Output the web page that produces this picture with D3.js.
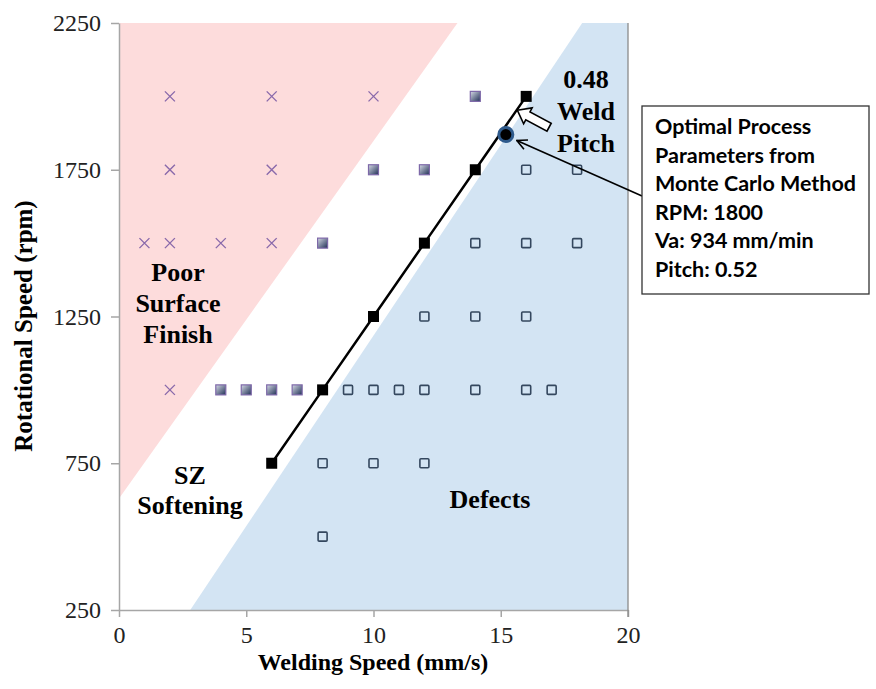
<!DOCTYPE html>
<html><head><meta charset="utf-8">
<script src="https://cdn.jsdelivr.net/npm/d3@7"></script>
<style>body{margin:0;background:#fff}svg{display:block}</style>
</head><body>
<svg id="c" width="876" height="689"></svg>
<script>
// ---- data ----
const xTicks = [0, 5, 10, 15, 20];
const yTicks = [250, 750, 1250, 1750, 2250];
const poorFinish = [[2,2000],[6,2000],[10,2000],[2,1750],[6,1750],[1,1500],[2,1500],[4,1500],[6,1500],[2,1000]];
const softening = [[14,2000],[10,1750],[12,1750],[8,1500],[4,1000],[5,1000],[6,1000],[7,1000]];
const pitchLine = [[6,750],[8,1000],[10,1250],[12,1500],[14,1750],[16,2000]];
const defects = [[16,1750],[18,1750],[14,1500],[16,1500],[18,1500],[12,1250],[14,1250],[16,1250],
  [9,1000],[10,1000],[11,1000],[12,1000],[14,1000],[16,1000],[17,1000],[8,750],[10,750],[12,750],[8,500]];
const optimal = [15.2, 1870];
const redRegion = [[0,2250],[13.3,2250],[0,630]];
const blueRegion = [[2.8,250],[18.2,2250],[20,2250],[20,250]];
const infoLines = ["Optimal Process","Parameters from","Monte Carlo Method","RPM: 1800","Va: 934 mm/min","Pitch: 0.52"];

const svg = d3.select("#c");
const L=119, R=628, T=23, B=610;
const x = d3.scaleLinear().domain([0,20]).range([L,R]);
const y = d3.scaleLinear().domain([250,2250]).range([B,T]);

const defs = svg.append("defs");
const g = defs.append("linearGradient").attr("id","sqg").attr("x1","0").attr("y1","0").attr("x2","1").attr("y2","1");
g.append("stop").attr("offset","0").attr("stop-color","#d7dbe6");
g.append("stop").attr("offset","1").attr("stop-color","#1f2f55");

const line = d3.line().x(d=>x(d[0])).y(d=>y(d[1]));
svg.append("path").attr("d", line(redRegion)+"Z").attr("fill","#fddcdc");
svg.append("path").attr("d", line(blueRegion)+"Z").attr("fill","#d3e4f3");

// axes
const axisCol = "#a6a6a6";
const serif = "Liberation Serif, Times New Roman, serif";
const xa = svg.append("g").attr("transform",`translate(0,${B})`)
  .call(d3.axisBottom(x).tickValues(xTicks).tickSize(7).tickSizeOuter(0));
const ya = svg.append("g").attr("transform",`translate(${L},0)`)
  .call(d3.axisLeft(y).tickValues(yTicks).tickSize(8).tickSizeOuter(0).tickFormat(d3.format("d")));
[xa,ya].forEach(a=>{
  a.selectAll("path,line").attr("stroke",axisCol).attr("stroke-width",1.5);
  a.selectAll("text").attr("fill","#222").style("font-family",serif).style("font-size","24px");
});
xa.selectAll("text").attr("y",16);
ya.selectAll("text").attr("x",-18);
svg.append("line").attr("x1",R).attr("x2",R).attr("y1",T).attr("y2",B+7).attr("stroke","#8a8a8a").attr("stroke-width",1.3);

// markers
const cs = 5;
svg.append("g").selectAll("path").data(poorFinish).join("path")
  .attr("d", d=>`M${x(d[0])-cs},${y(d[1])-cs}L${x(d[0])+cs},${y(d[1])+cs}M${x(d[0])-cs},${y(d[1])+cs}L${x(d[0])+cs},${y(d[1])-cs}`)
  .attr("stroke","#8a6aab").attr("stroke-width",1.4);
svg.append("g").selectAll("rect").data(softening).join("rect")
  .attr("x",d=>x(d[0])-5).attr("y",d=>y(d[1])-5).attr("width",10).attr("height",10)
  .attr("fill","url(#sqg)").attr("stroke","#7d68a8").attr("stroke-width",1.2);
svg.append("g").selectAll("rect").data(defects).join("rect")
  .attr("x",d=>x(d[0])-4.5).attr("y",d=>y(d[1])-4.5).attr("width",9).attr("height",9)
  .attr("fill","none").attr("stroke","#34475e").attr("stroke-width",1.6).attr("rx",1);
svg.append("path").attr("d",line(pitchLine)).attr("fill","none").attr("stroke","#000").attr("stroke-width",2.5);
svg.append("g").selectAll("rect").data(pitchLine).join("rect")
  .attr("x",d=>x(d[0])-5.5).attr("y",d=>y(d[1])-5.5).attr("width",11).attr("height",11).attr("fill","#000");

// optimal point
svg.append("circle").attr("cx",x(optimal[0])).attr("cy",y(optimal[1])).attr("r",7)
  .attr("fill","#000").attr("stroke","#2e5a8c").attr("stroke-width",3);

// block arrow (hollow)
{
  const tip=[x(15.65), y(1953)], tail=[x(16.9), y(1895)];
  const ang = Math.atan2(tail[1]-tip[1], tail[0]-tip[0])*180/Math.PI;
  const len = Math.hypot(tail[0]-tip[0], tail[1]-tip[1]);
  svg.append("path").attr("transform",`translate(${tip[0]},${tip[1]}) rotate(${ang})`)
    .attr("d",`M0,0L12,-9L12,-4.5L${len},-4.5L${len},4.5L12,4.5L12,9Z`)
    .attr("fill","#fff").attr("stroke","#000").attr("stroke-width",1.6);
}
// arrow from box to point
defs.append("marker").attr("id","ah").attr("viewBox","0 0 12 12").attr("refX",11).attr("refY",6)
  .attr("markerWidth",12).attr("markerHeight",12).attr("markerUnits","userSpaceOnUse").attr("orient","auto")
  .append("path").attr("d","M1,1L11,6L1,11").attr("fill","none").attr("stroke","#000").attr("stroke-width",1.6);
svg.append("line").attr("x1",642).attr("y1",196).attr("x2",x(optimal[0])+11).attr("y2",y(optimal[1])+6)
  .attr("stroke","#000").attr("stroke-width",1.6).attr("marker-end","url(#ah)");

// region labels
function label(lines, cx, y0, dy, size){
  const t = svg.append("text").attr("text-anchor","middle").style("font-family",serif)
    .style("font-weight","bold").style("font-size",size+"px").attr("fill","#000");
  lines.forEach((s,i)=>t.append("tspan").attr("x",cx).attr("y",y0+i*dy).text(s));
}
label(["Poor","Surface","Finish"], 178, 281, 31, 26);
label(["SZ","Softening"], 190, 484, 30, 26);
label(["Defects"], 490, 508, 31, 26);
label(["0.48","Weld","Pitch"], 586, 88, 32, 26);

// info box
svg.append("rect").attr("x",642).attr("y",106).attr("width",227).attr("height",188)
  .attr("fill","#fff").attr("stroke","#333").attr("stroke-width",1.3);
const it = svg.append("text").style("font-family","Lato, Open Sans, sans-serif").style("font-weight","bold").style("font-size","21.5px").attr("fill","#000");
infoLines.forEach((s,i)=>it.append("tspan").attr("x",655).attr("y",134+i*28.5).text(s));

// axis titles
svg.append("text").attr("x",373).attr("y",670).attr("text-anchor","middle")
  .style("font-family",serif).style("font-weight","bold").style("font-size","24px").text("Welding Speed (mm/s)");
svg.append("text").attr("transform","translate(32,326) rotate(-90)").attr("text-anchor","middle")
  .style("font-family",serif).style("font-weight","bold").style("font-size","25px").text("Rotational Speed (rpm)");
</script>
</body></html>
